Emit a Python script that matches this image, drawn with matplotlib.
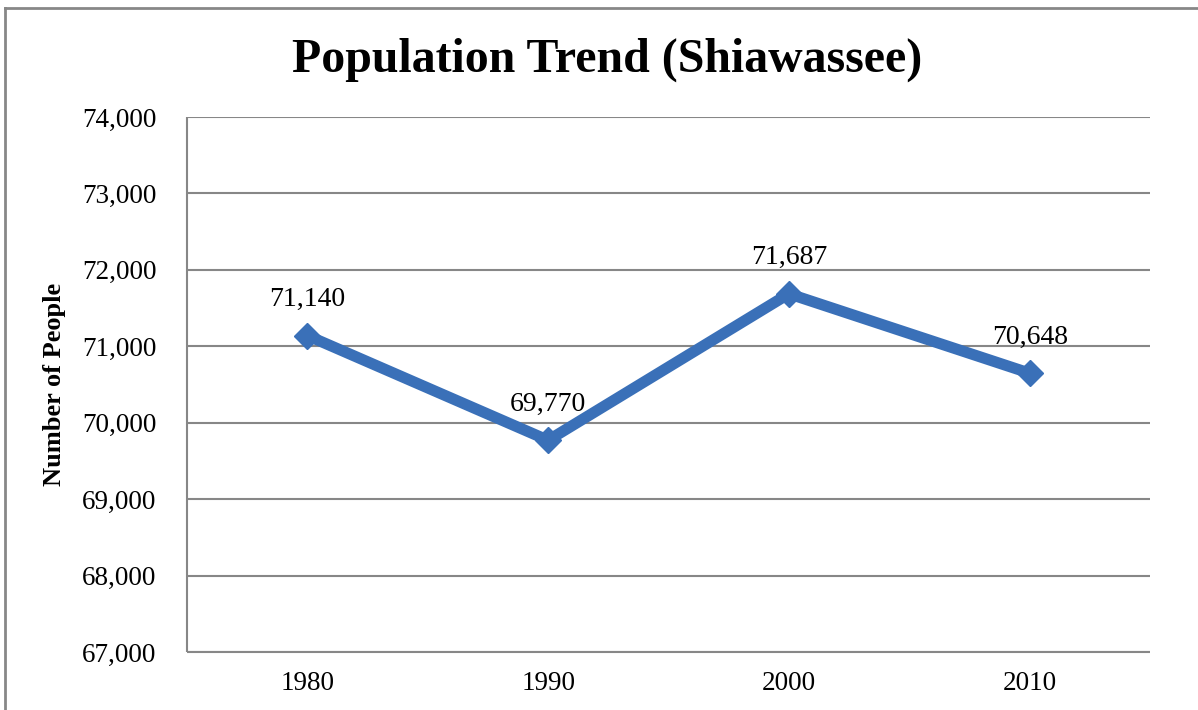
import matplotlib
matplotlib.use("Agg")
import matplotlib.pyplot as plt
from matplotlib.lines import Line2D
from matplotlib.ticker import FuncFormatter, MultipleLocator

plt.rcParams.update({"font.family": "Liberation Serif", "font.size": 19.5})

years = ["1980", "1990", "2000", "2010"]
population = [71140, 69770, 71687, 70648]
y_min, y_max = 67000, 74000

BLUE = "#3A70B8"
GRID = "#878787"

W, H = 1198, 710
fig = plt.figure(figsize=(W / 100, H / 100), dpi=100)
ax = fig.add_axes([187 / W, 1 - 652 / H, (1150 - 187) / W, (652 - 117) / H])

x = range(len(years))
ax.plot(x, population, color=BLUE, lw=8, marker="D", ms=13, solid_joinstyle="miter", zorder=3)
for xi, v in zip(x, population):
    ax.annotate(f"{v:,}", (xi, v), textcoords="offset points", xytext=(0, 17),
                ha="center", va="bottom", fontsize=20)

ax.set_xlim(-0.5, len(years) - 0.5)
ax.set_ylim(y_min, y_max)
ax.yaxis.set_major_locator(MultipleLocator(1000))
ax.yaxis.set_major_formatter(FuncFormatter(lambda v, p: f"{int(v):,}"))
ax.set_xticks(list(x))
ax.set_xticklabels(years)
ax.tick_params(axis="both", length=0, width=0, labelsize=19.5)
ax.tick_params(axis="y", pad=22)
ax.tick_params(axis="x", pad=14)
ax.grid(axis="y", color=GRID, lw=1.5)
ax.set_axisbelow(True)
for s in ("top", "right"):
    ax.spines[s].set_visible(False)
for s in ("left", "bottom"):
    ax.spines[s].set_color(GRID)
    ax.spines[s].set_linewidth(1.5)
    ax.spines[s].set_capstyle("butt")

ax.set_ylabel("Number of People", fontsize=19, fontweight="bold")
ax.yaxis.set_label_coords(-0.126, 0.5)

fig.text(607 / W, 1 - 60 / H, "Population Trend (Shiawassee)", ha="center", va="center",
         fontsize=34.5, fontweight="bold")

# chart-area border (top and left edges visible)
fig.add_artist(Line2D([5 / W, 1], [1 - 8 / H, 1 - 8 / H], color=GRID, lw=2,
                      transform=fig.transFigure))
fig.add_artist(Line2D([5 / W, 5 / W], [0, 1 - 8 / H], color=GRID, lw=2,
                      transform=fig.transFigure))

fig.savefig("out.png", dpi=100)
